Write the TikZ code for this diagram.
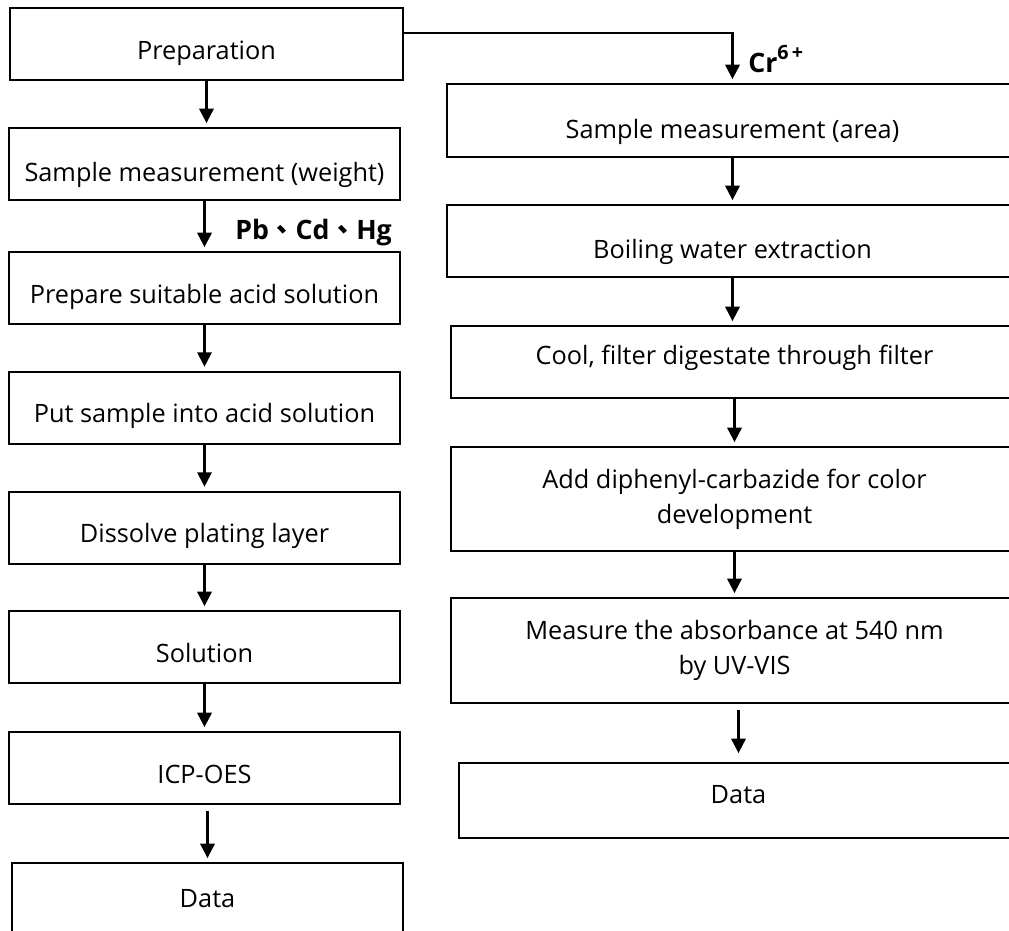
\documentclass[tikz,border=0pt]{standalone}
\usepackage{fontspec}
\setmainfont{Open Sans}
\newfontfamily\cjk{Noto Sans CJK TC}
\usetikzlibrary{arrows.meta}

\begin{document}
\begin{tikzpicture}[font=\fontsize{18}{25}\selectfont, >={Triangle[length=0.36cm, width=0.36cm]},
    box/.style={draw, line width=1.3pt, align=center, inner sep=3pt},
    low/.style={text height=#1, text depth=4.5pt}, low/.default=26pt,
    high/.style={text height=10pt, text depth=6pt},
    lbox/.style={box, minimum width=9.775cm, minimum height=1.8cm},
    rbox/.style={box, minimum width=14.275cm, minimum height=1.8cm},
    tall/.style={box, minimum width=14.175cm, minimum height=2.6cm},
    tag/.style={font=\fontsize{19}{22}\selectfont\bfseries, anchor=base west, inner sep=0pt},
    flow/.style={->, line width=1.5pt, shorten >=0.1cm}]
    \clip (0,0) rectangle (25.225,-23.275);
    % Pb, Cd, Hg branch
    \node[lbox, low, minimum width=9.825cm] (prep) at (5.1625,-1.1) {Preparation};
    \node[lbox, low=30pt] (wgt) at (5.1125,-4.1) {Sample measurement (weight)};
    \node[lbox, low] (acid)  at (5.1125,-7.2)    {Prepare suitable acid solution};
    \node[lbox, low] (put)   at (5.1125,-10.19)  {Put sample into acid solution};
    \node[lbox, low] (diss)  at (5.1125,-13.19)  {Dissolve plating layer};
    \node[lbox, low] (sol)   at (5.1125,-16.175) {Solution};
    \node[lbox, low] (icp)   at (5.1125,-19.2)   {ICP-OES};
    \node[lbox] (ldata) at (5.1875,-22.475) {Data};
    \node[tag]  (pbl)   at (5.875,-6.0)     {Pb{\cjk 、}Cd{\cjk 、}Hg};
    % Cr6+ branch
    \node[rbox, low=30pt, minimum height=1.825cm] (area) at (18.3125,-3.0125) {Sample measurement (area)};
    \node[rbox, low=30pt] (boil) at (18.3125,-6.025) {Boiling water extraction};
    \node[rbox, high, minimum width=14.175cm] (cool) at (18.3625,-9.05) {Cool, filter digestate through filter};
    \node[tall] (add)  at (18.3625,-12.475) {Add diphenyl-carbazide for color\\development};
    \node[tall, minimum height=2.625cm] (meas) at (18.3625,-16.2625) {Measure the absorbance at 540 nm\\by UV-VIS};
    \node[rbox, high, minimum width=13.975cm, minimum height=1.875cm] (rdata) at (18.4625,-20.0125) {Data};
    \node[tag]  (crl)   at (18.7,-1.825) {Cr\raisebox{0.5em}{\fontsize{14}{14}\selectfont 6\,+}};
    % connectors
    \draw[flow] ([yshift=0.275cm]prep.east) -| (area.north);
    \draw[flow] (prep) -- (prep |- wgt.north);
    \draw[flow] (wgt) -- (wgt |- acid.north);
    \draw[flow] (acid) -- (acid |- put.north);
    \draw[flow] (put) -- (put |- diss.north);
    \draw[flow] (diss) -- (diss |- sol.north);
    \draw[flow] (sol) -- (sol |- icp.north);
    \draw[flow, shorten <=0.15cm] (ldata |- icp.south) -- (ldata.north);
    \draw[flow] (area) -- (area |- boil.north);
    \draw[flow] (boil) -- (boil |- cool.north);
    \draw[flow] (cool) -- (cool |- add.north);
    \draw[flow] (add) -- (add |- meas.north);
    \draw[flow, shorten <=0.15cm, shorten >=0.225cm] (rdata |- meas.south) -- (rdata.north);
\end{tikzpicture}
\end{document}
